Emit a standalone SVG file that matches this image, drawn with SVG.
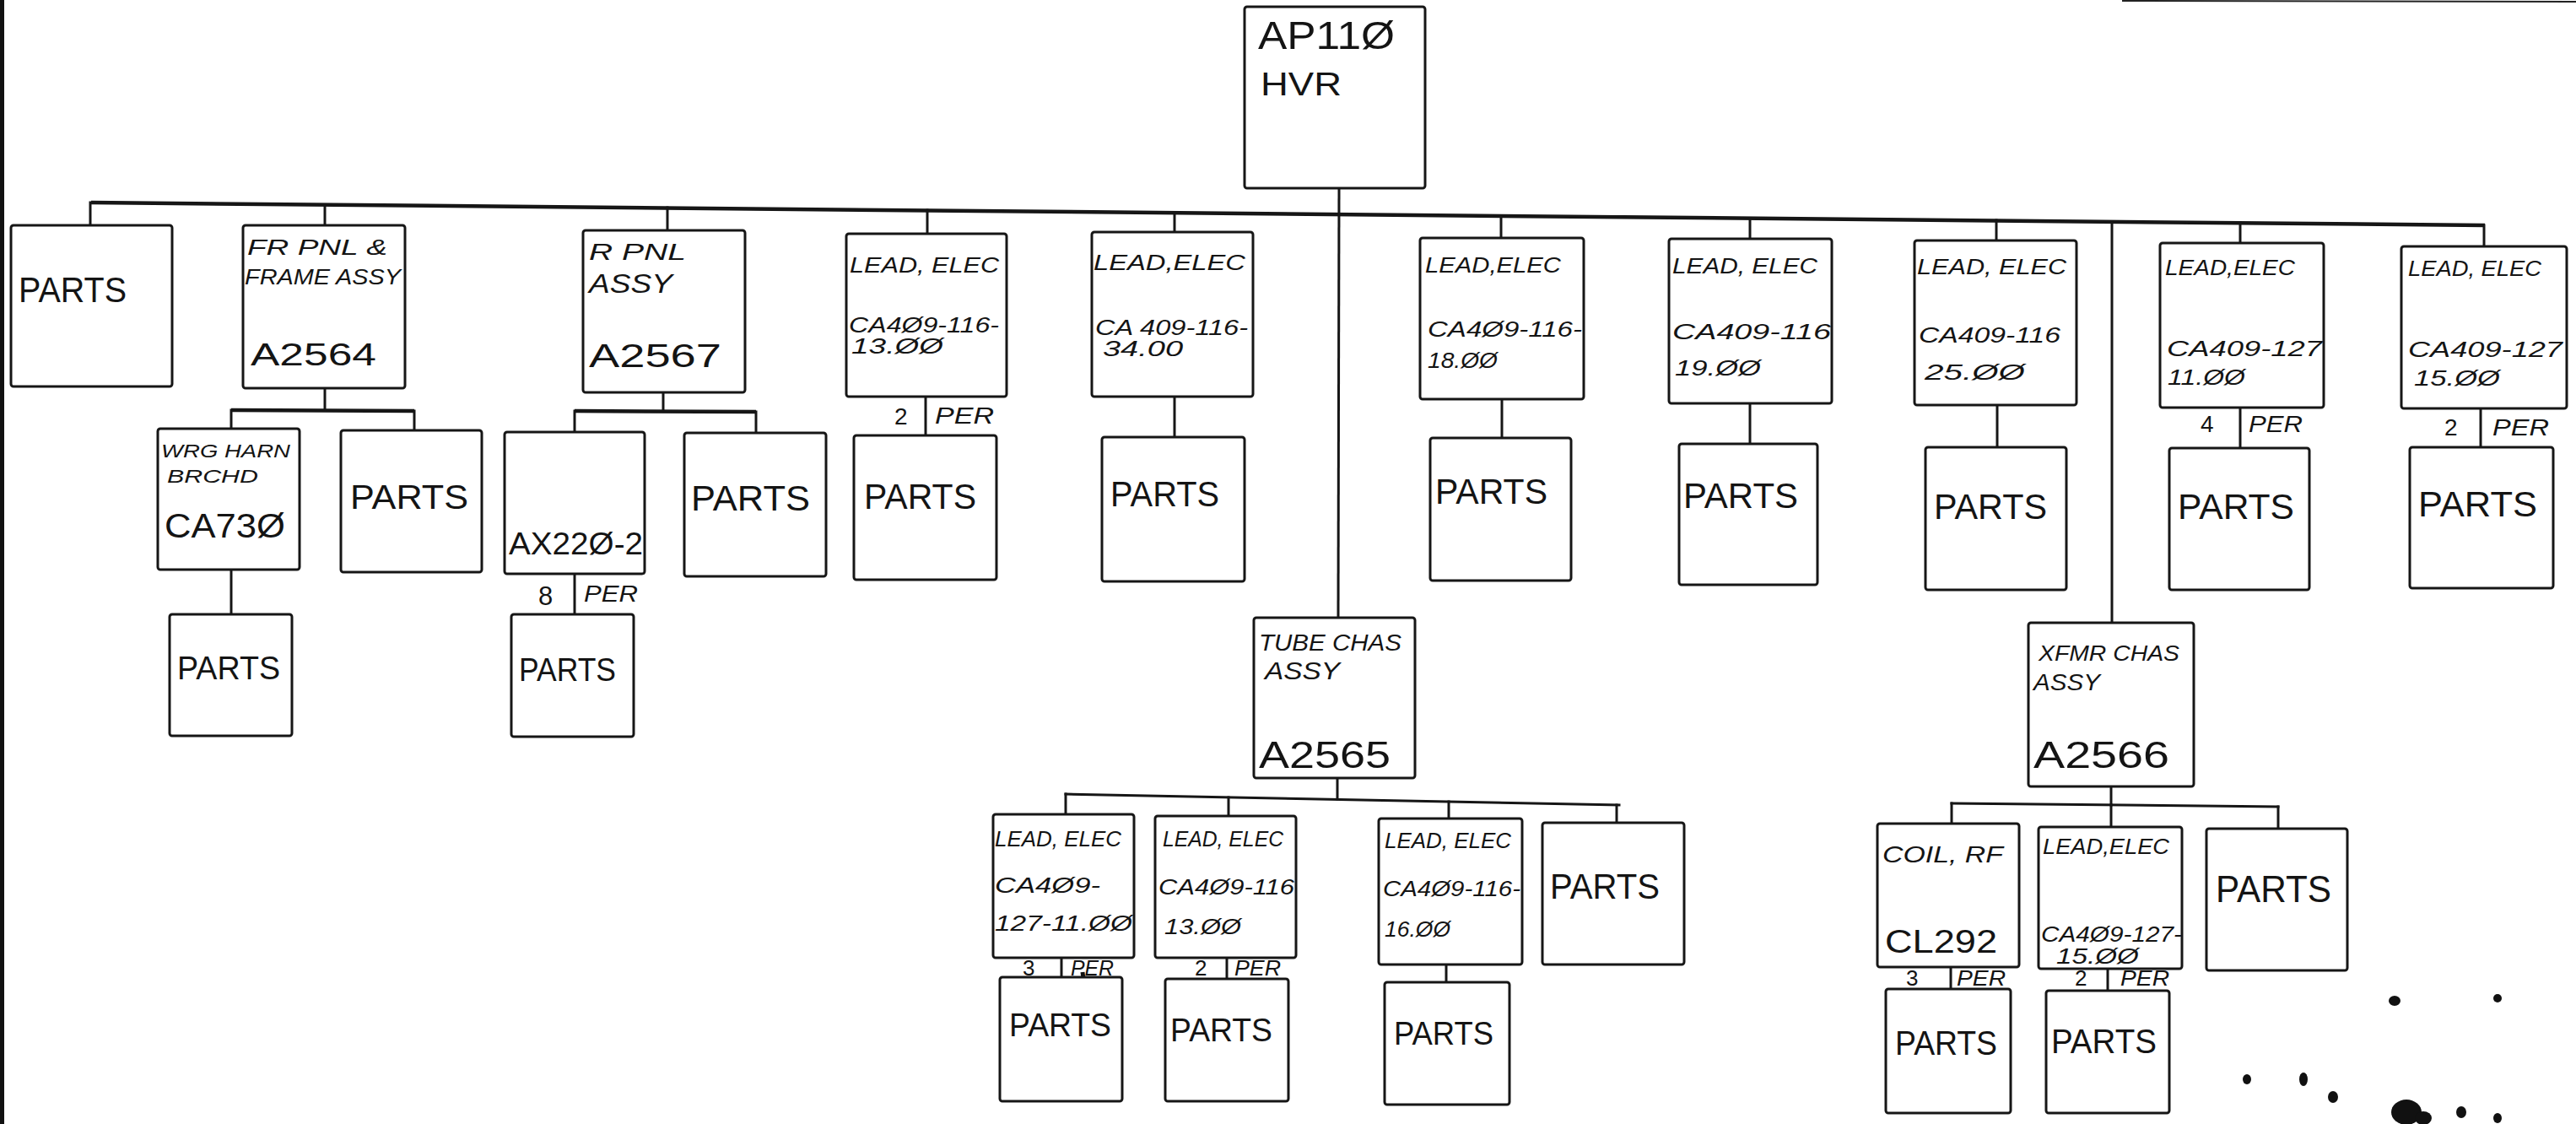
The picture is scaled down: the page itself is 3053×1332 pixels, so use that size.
<svg xmlns="http://www.w3.org/2000/svg" width="3053" height="1332" viewBox="0 0 3053 1332">
<style>
.box{fill:#fff;stroke:#161616;stroke-width:3;stroke-linejoin:round}
.ln{stroke:#161616;stroke-width:3;fill:none;stroke-linecap:square}
.bus{stroke:#161616;stroke-width:4.5;fill:none}
text{font-family:"Liberation Sans","DejaVu Sans",sans-serif;fill:#141414}
.it{font-style:italic}
.pt{font-size:42px}
.sm{font-size:25px;font-style:italic}
.num{font-size:28px}
</style>
<rect x="0" y="0" width="3053" height="1332" fill="#fff"/>
<g id="scan-marks">
<rect x="0" y="0" width="5" height="1332" fill="#111"/>
<line x1="2515" y1="1" x2="3053" y2="2" stroke="#222" stroke-width="2"/>
<ellipse cx="2663" cy="1279" rx="5" ry="6" fill="#111"/>
<ellipse cx="2730" cy="1279" rx="5" ry="8" fill="#111"/>
<ellipse cx="2765" cy="1300" rx="6" ry="7" fill="#111"/>
<ellipse cx="2838" cy="1186" rx="7" ry="6" fill="#111"/>
<ellipse cx="2960" cy="1183" rx="5" ry="5" fill="#111"/>
<ellipse cx="2852" cy="1318" rx="18" ry="15" fill="#111"/>
<ellipse cx="2872" cy="1325" rx="10" ry="8" fill="#111"/>
<ellipse cx="2917" cy="1318" rx="6" ry="7" fill="#111"/>
<ellipse cx="2960" cy="1325" rx="5" ry="6" fill="#111"/>
<line x1="1283" y1="1152" x2="1288" y2="1190" stroke="#111" stroke-width="5"/>
</g>
<g id="connectors">
<line class="bus" x1="108" y1="240" x2="2945" y2="267"/>
<line class="ln" x1="1587" y1="223" x2="1586" y2="732"/>
<line class="ln" x1="107" y1="240" x2="107" y2="267"/>
<line class="ln" x1="385" y1="243" x2="385" y2="267"/>
<line class="ln" x1="791" y1="246" x2="791" y2="273"/>
<line class="ln" x1="1099" y1="249" x2="1099" y2="277"/>
<line class="ln" x1="1392" y1="252" x2="1392" y2="275"/>
<line class="ln" x1="1779" y1="256" x2="1779" y2="282"/>
<line class="ln" x1="2074" y1="259" x2="2074" y2="283"/>
<line class="ln" x1="2366" y1="261" x2="2366" y2="285"/>
<line class="ln" x1="2503" y1="263" x2="2503" y2="738"/>
<line class="ln" x1="2655" y1="264" x2="2655" y2="288"/>
<line class="ln" x1="2944" y1="267" x2="2944" y2="292"/>
<line class="ln" x1="385" y1="460" x2="385" y2="486"/>
<line class="bus" x1="274" y1="486" x2="491" y2="487"/>
<line class="ln" x1="274" y1="486" x2="274" y2="508"/>
<line class="ln" x1="491" y1="487" x2="491" y2="510"/>
<line class="ln" x1="274" y1="675" x2="274" y2="728"/>
<line class="ln" x1="786" y1="465" x2="786" y2="487"/>
<line class="bus" x1="681" y1="487" x2="896" y2="488"/>
<line class="ln" x1="681" y1="487" x2="681" y2="512"/>
<line class="ln" x1="896" y1="488" x2="896" y2="513"/>
<line class="ln" x1="681" y1="680" x2="681" y2="728"/>
<line class="ln" x1="1097" y1="470" x2="1097" y2="516"/>
<line class="ln" x1="1392" y1="470" x2="1392" y2="518"/>
<line class="ln" x1="1780" y1="474" x2="1780" y2="519"/>
<line class="ln" x1="2074" y1="478" x2="2074" y2="526"/>
<line class="ln" x1="2367" y1="480" x2="2367" y2="530"/>
<line class="ln" x1="2655" y1="483" x2="2655" y2="531"/>
<line class="ln" x1="2940" y1="485" x2="2940" y2="530"/>
<line class="ln" x1="1585" y1="922" x2="1585" y2="947"/>
<line class="ln" x1="1263" y1="941" x2="1919" y2="954"/>
<line class="ln" x1="1263" y1="941" x2="1263" y2="965"/>
<line class="ln" x1="1456" y1="945" x2="1456" y2="967"/>
<line class="ln" x1="1717" y1="950" x2="1717" y2="970"/>
<line class="ln" x1="1916" y1="954" x2="1916" y2="975"/>
<line class="ln" x1="1258" y1="1135" x2="1258" y2="1158"/>
<line class="ln" x1="1454" y1="1135" x2="1454" y2="1160"/>
<line class="ln" x1="1714" y1="1143" x2="1714" y2="1164"/>
<line class="ln" x1="2502" y1="932" x2="2502" y2="954"/>
<line class="ln" x1="2313" y1="952" x2="2700" y2="956"/>
<line class="ln" x1="2313" y1="952" x2="2313" y2="976"/>
<line class="ln" x1="2502" y1="954" x2="2502" y2="980"/>
<line class="ln" x1="2700" y1="956" x2="2700" y2="982"/>
<line class="ln" x1="2312" y1="1146" x2="2312" y2="1172"/>
<line class="ln" x1="2498" y1="1148" x2="2498" y2="1174"/>
</g>
<g id="n-root"><rect class="box" x="1475" y="8" width="214" height="215" rx="3"/><text x="1491" y="58" font-size="46" textLength="162" lengthAdjust="spacingAndGlyphs">AP11Ø</text><text x="1494" y="113" font-size="38" textLength="96" lengthAdjust="spacingAndGlyphs">HVR</text></g>
<g id="n-parts-a"><rect class="box" x="13" y="267" width="191" height="191" rx="3"/><text class="pt" x="22" y="358" textLength="128" lengthAdjust="spacingAndGlyphs">PARTS</text></g>
<g id="n-frpnl"><rect class="box" x="288" y="267" width="192" height="193" rx="3"/><text class="it" font-size="25" x="293" y="302" textLength="166" lengthAdjust="spacingAndGlyphs">FR PNL &amp;</text><text class="it" font-size="25" x="290" y="337" textLength="185" lengthAdjust="spacingAndGlyphs">FRAME ASSY</text><text font-size="37" x="297" y="433" textLength="149" lengthAdjust="spacingAndGlyphs">A2564</text></g>
<g id="n-rpnl"><rect class="box" x="691" y="273" width="192" height="192" rx="3"/><text class="it" font-size="28" x="698" y="308" textLength="115" lengthAdjust="spacingAndGlyphs">R PNL</text><text class="it" font-size="31" x="698" y="347" textLength="99" lengthAdjust="spacingAndGlyphs">ASSY</text><text font-size="38" x="698" y="435" textLength="157" lengthAdjust="spacingAndGlyphs">A2567</text></g>
<g id="n-le1"><rect class="box" x="1003" y="277" width="190" height="193" rx="3"/><text class="sm" x="1007" y="323" textLength="177" lengthAdjust="spacingAndGlyphs">LEAD, ELEC</text><text class="sm" x="1006" y="394" textLength="178" lengthAdjust="spacingAndGlyphs">CA4Ø9-116-</text><text class="sm" x="1009" y="419" textLength="109" lengthAdjust="spacingAndGlyphs">13.ØØ</text></g>
<g id="n-le2"><rect class="box" x="1294" y="275" width="191" height="195" rx="3"/><text class="sm" x="1296" y="320" textLength="180" lengthAdjust="spacingAndGlyphs">LEAD,ELEC</text><text class="sm" font-size="23" x="1298" y="397" textLength="181" lengthAdjust="spacingAndGlyphs">CA 409-116-</text><text class="sm" font-size="23" x="1307" y="422" textLength="95" lengthAdjust="spacingAndGlyphs">34.00</text></g>
<g id="n-le3"><rect class="box" x="1683" y="282" width="194" height="191" rx="3"/><text class="sm" x="1689" y="323" textLength="161" lengthAdjust="spacingAndGlyphs">LEAD,ELEC</text><text class="sm" x="1692" y="399" textLength="183" lengthAdjust="spacingAndGlyphs">CA4Ø9-116-</text><text class="sm" x="1692" y="436" textLength="83" lengthAdjust="spacingAndGlyphs">18.ØØ</text></g>
<g id="n-le4"><rect class="box" x="1978" y="283" width="193" height="195" rx="3"/><text class="sm" x="1982" y="324" textLength="172" lengthAdjust="spacingAndGlyphs">LEAD, ELEC</text><text class="sm" x="1982" y="402" textLength="188" lengthAdjust="spacingAndGlyphs">CA409-116</text><text class="sm" x="1985" y="445" textLength="102" lengthAdjust="spacingAndGlyphs">19.ØØ</text></g>
<g id="n-le5"><rect class="box" x="2269" y="285" width="192" height="195" rx="3"/><text class="sm" x="2272" y="325" textLength="177" lengthAdjust="spacingAndGlyphs">LEAD, ELEC</text><text class="sm" x="2274" y="406" textLength="168" lengthAdjust="spacingAndGlyphs">CA409-116</text><text class="sm" x="2281" y="450" textLength="119" lengthAdjust="spacingAndGlyphs">25.ØØ</text></g>
<g id="n-le6"><rect class="box" x="2560" y="288" width="194" height="195" rx="3"/><text class="sm" x="2566" y="326" textLength="154" lengthAdjust="spacingAndGlyphs">LEAD,ELEC</text><text class="sm" x="2568" y="422" textLength="184" lengthAdjust="spacingAndGlyphs">CA409-127</text><text class="sm" x="2569" y="456" textLength="92" lengthAdjust="spacingAndGlyphs">11.ØØ</text></g>
<g id="n-le7"><rect class="box" x="2846" y="292" width="196" height="192" rx="3"/><text class="sm" x="2854" y="327" textLength="158" lengthAdjust="spacingAndGlyphs">LEAD, ELEC</text><text class="sm" x="2854" y="423" textLength="183" lengthAdjust="spacingAndGlyphs">CA409-127</text><text class="sm" x="2861" y="457" textLength="102" lengthAdjust="spacingAndGlyphs">15.ØØ</text></g>
<g id="q-le1"><text class="num" x="1060" y="503">2</text><text class="it" font-size="27" x="1108" y="502" textLength="70" lengthAdjust="spacingAndGlyphs">PER</text></g>
<g id="q-le6"><text class="num" x="2608" y="512">4</text><text class="it" font-size="27" x="2665" y="512" textLength="64" lengthAdjust="spacingAndGlyphs">PER</text></g>
<g id="q-le7"><text class="num" x="2897" y="516">2</text><text class="it" font-size="27" x="2954" y="516" textLength="67" lengthAdjust="spacingAndGlyphs">PER</text></g>
<g id="q-ax"><text font-size="31" x="638" y="717">8</text><text class="it" font-size="27" x="692" y="713" textLength="64" lengthAdjust="spacingAndGlyphs">PER</text></g>
<g id="n-le1-parts"><rect class="box" x="1012" y="516" width="169" height="171" rx="3"/><text class="pt" x="1024" y="603" textLength="133" lengthAdjust="spacingAndGlyphs">PARTS</text></g>
<g id="n-le2-parts"><rect class="box" x="1306" y="518" width="169" height="171" rx="3"/><text class="pt" x="1316" y="600" textLength="129" lengthAdjust="spacingAndGlyphs">PARTS</text></g>
<g id="n-le3-parts"><rect class="box" x="1695" y="519" width="167" height="169" rx="3"/><text class="pt" x="1701" y="597" textLength="133" lengthAdjust="spacingAndGlyphs">PARTS</text></g>
<g id="n-le4-parts"><rect class="box" x="1990" y="526" width="164" height="167" rx="3"/><text class="pt" x="1995" y="602" textLength="136" lengthAdjust="spacingAndGlyphs">PARTS</text></g>
<g id="n-le5-parts"><rect class="box" x="2282" y="530" width="167" height="169" rx="3"/><text class="pt" x="2292" y="615" textLength="134" lengthAdjust="spacingAndGlyphs">PARTS</text></g>
<g id="n-le6-parts"><rect class="box" x="2571" y="531" width="166" height="168" rx="3"/><text class="pt" x="2581" y="615" textLength="138" lengthAdjust="spacingAndGlyphs">PARTS</text></g>
<g id="n-le7-parts"><rect class="box" x="2856" y="530" width="170" height="167" rx="3"/><text class="pt" x="2866" y="612" textLength="141" lengthAdjust="spacingAndGlyphs">PARTS</text></g>
<g id="n-wrg"><rect class="box" x="187" y="508" width="168" height="167" rx="3"/><text class="it" font-size="22" x="191" y="542" textLength="153" lengthAdjust="spacingAndGlyphs">WRG HARN</text><text class="it" font-size="22" x="198" y="572" textLength="108" lengthAdjust="spacingAndGlyphs">BRCHD</text><text font-size="41" x="195" y="637" textLength="143" lengthAdjust="spacingAndGlyphs">CA73Ø</text></g>
<g id="n-fr-parts"><rect class="box" x="404" y="510" width="167" height="168" rx="3"/><text font-size="40" x="415" y="603" textLength="140" lengthAdjust="spacingAndGlyphs">PARTS</text></g>
<g id="n-wrg-parts"><rect class="box" x="201" y="728" width="145" height="144" rx="3"/><text font-size="38" x="210" y="805" textLength="122" lengthAdjust="spacingAndGlyphs">PARTS</text></g>
<g id="n-ax"><rect class="box" x="598" y="512" width="166" height="168" rx="3"/><text font-size="36" x="603" y="657" textLength="159" lengthAdjust="spacingAndGlyphs">AX22Ø-2</text></g>
<g id="n-rp-parts"><rect class="box" x="811" y="513" width="168" height="170" rx="3"/><text class="pt" x="819" y="605" textLength="141" lengthAdjust="spacingAndGlyphs">PARTS</text></g>
<g id="n-ax-parts"><rect class="box" x="606" y="728" width="145" height="145" rx="3"/><text font-size="38" x="615" y="807" textLength="115" lengthAdjust="spacingAndGlyphs">PARTS</text></g>
<g id="n-tube"><rect class="box" x="1486" y="732" width="191" height="190" rx="3"/><text class="it" font-size="27" x="1492" y="771" textLength="169" lengthAdjust="spacingAndGlyphs">TUBE CHAS</text><text class="it" font-size="29" x="1499" y="805" textLength="89" lengthAdjust="spacingAndGlyphs">ASSY</text><text font-size="45" x="1492" y="910" textLength="156" lengthAdjust="spacingAndGlyphs">A2565</text></g>
<g id="n-tle1"><rect class="box" x="1177" y="965" width="167" height="170" rx="3"/><text class="sm" x="1179" y="1003" textLength="150" lengthAdjust="spacingAndGlyphs">LEAD, ELEC</text><text class="sm" x="1179" y="1058" textLength="125" lengthAdjust="spacingAndGlyphs">CA4Ø9-</text><text class="sm" x="1179" y="1103" textLength="163" lengthAdjust="spacingAndGlyphs">127-11.ØØ</text></g>
<g id="n-tle2"><rect class="box" x="1369" y="967" width="167" height="168" rx="3"/><text class="sm" x="1378" y="1003" textLength="143" lengthAdjust="spacingAndGlyphs">LEAD, ELEC</text><text class="sm" x="1373" y="1060" textLength="161" lengthAdjust="spacingAndGlyphs">CA4Ø9-116</text><text class="sm" x="1380" y="1107" textLength="91" lengthAdjust="spacingAndGlyphs">13.ØØ</text></g>
<g id="n-tle3"><rect class="box" x="1634" y="970" width="170" height="173" rx="3"/><text class="sm" x="1641" y="1005" textLength="150" lengthAdjust="spacingAndGlyphs">LEAD, ELEC</text><text class="sm" x="1639" y="1062" textLength="163" lengthAdjust="spacingAndGlyphs">CA4Ø9-116-</text><text class="sm" x="1641" y="1110" textLength="78" lengthAdjust="spacingAndGlyphs">16.ØØ</text></g>
<g id="n-tparts"><rect class="box" x="1828" y="975" width="168" height="168" rx="3"/><text class="pt" x="1837" y="1065" textLength="130" lengthAdjust="spacingAndGlyphs">PARTS</text></g>
<g id="q-tle1"><text font-size="26" x="1212" y="1156">3</text><text class="it" font-size="25" x="1269" y="1156" textLength="51" lengthAdjust="spacingAndGlyphs">PER</text></g>
<g id="q-tle2"><text font-size="26" x="1416" y="1156">2</text><text class="it" font-size="25" x="1463" y="1156" textLength="55" lengthAdjust="spacingAndGlyphs">PER</text></g>
<g id="n-tle1-parts"><rect class="box" x="1185" y="1158" width="145" height="147" rx="3"/><text font-size="38" x="1196" y="1228" textLength="121" lengthAdjust="spacingAndGlyphs">PARTS</text></g>
<g id="n-tle2-parts"><rect class="box" x="1381" y="1160" width="146" height="145" rx="3"/><text font-size="38" x="1387" y="1234" textLength="121" lengthAdjust="spacingAndGlyphs">PARTS</text></g>
<g id="n-tle3-parts"><rect class="box" x="1641" y="1164" width="148" height="145" rx="3"/><text font-size="38" x="1652" y="1238" textLength="118" lengthAdjust="spacingAndGlyphs">PARTS</text></g>
<g id="n-xfmr"><rect class="box" x="2404" y="738" width="196" height="194" rx="3"/><text class="it" font-size="25" x="2416" y="783" textLength="167" lengthAdjust="spacingAndGlyphs">XFMR CHAS</text><text class="it" font-size="27" x="2410" y="818" textLength="79" lengthAdjust="spacingAndGlyphs">ASSY</text><text font-size="45" x="2410" y="910" textLength="161" lengthAdjust="spacingAndGlyphs">A2566</text></g>
<g id="n-coil"><rect class="box" x="2225" y="976" width="168" height="170" rx="3"/><text class="it" font-size="28" x="2231" y="1022" textLength="143" lengthAdjust="spacingAndGlyphs">COIL, RF</text><text font-size="38" x="2234" y="1129" textLength="133" lengthAdjust="spacingAndGlyphs">CL292</text></g>
<g id="n-xle"><rect class="box" x="2416" y="980" width="170" height="168" rx="3"/><text class="sm" x="2421" y="1012" textLength="150" lengthAdjust="spacingAndGlyphs">LEAD,ELEC</text><text class="sm" font-size="24" x="2419" y="1116" textLength="167" lengthAdjust="spacingAndGlyphs">CA4Ø9-127-</text><text class="sm" font-size="24" x="2437" y="1142" textLength="98" lengthAdjust="spacingAndGlyphs">15.ØØ</text></g>
<g id="n-xparts"><rect class="box" x="2615" y="982" width="167" height="168" rx="3"/><text font-size="44" x="2626" y="1069" textLength="137" lengthAdjust="spacingAndGlyphs">PARTS</text></g>
<g id="q-coil"><text font-size="26" x="2259" y="1168">3</text><text class="it" font-size="25" x="2319" y="1168" textLength="58" lengthAdjust="spacingAndGlyphs">PER</text></g>
<g id="q-xle"><text font-size="26" x="2459" y="1168">2</text><text class="it" font-size="25" x="2513" y="1168" textLength="58" lengthAdjust="spacingAndGlyphs">PER</text></g>
<g id="n-coil-parts"><rect class="box" x="2235" y="1172" width="148" height="147" rx="3"/><text font-size="40" x="2246" y="1250" textLength="121" lengthAdjust="spacingAndGlyphs">PARTS</text></g>
<g id="n-xle-parts"><rect class="box" x="2425" y="1174" width="146" height="145" rx="3"/><text font-size="40" x="2431" y="1248" textLength="125" lengthAdjust="spacingAndGlyphs">PARTS</text></g>
</svg>
